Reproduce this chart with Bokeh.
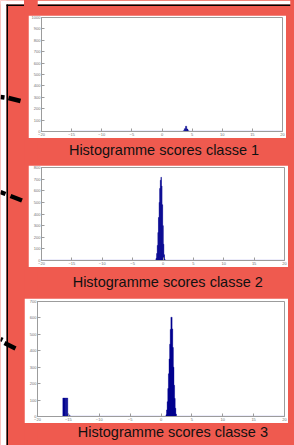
from bokeh.plotting import figure
from bokeh.layouts import row, column
from bokeh.models import Range1d, FixedTicker
from bokeh.core.properties import value
from bokeh.embed import file_html
from bokeh.resources import INLINE

# ---------------- data ----------------
x_ticks = [-20, -15, -10, -5, 0, 5, 10, 15, 20]

# classe 1
c1_centers = [3.6, 3.8, 4.0, 4.2, 4.4]
c1_counts = [6, 25, 46, 22, 6]
c1_span = [-15, 20]
c1_yticks = [0, 100, 200, 300, 400, 500, 600, 700, 800, 900, 1000]

# classe 2
c2_centers = [-1.2, -1.1, -1.0, -0.9, -0.8, -0.7, -0.6, -0.5, -0.4, -0.3,
              -0.2, -0.1, 0.0, 0.1, 0.2, 0.3]
c2_counts = [5, 20, 60, 130, 240, 370, 500, 620, 690, 716, 640, 480, 300, 140, 50, 10]
c2_span = [-20, 20]
c2_yticks = [0, 100, 200, 300, 400, 500, 600, 700, 800]

# classe 3
c3_centers = [-15.8, -15.6, -15.4, -15.2, -15.0, -14.8,
              0.9, 1.0, 1.1, 1.2, 1.3, 1.4, 1.5, 1.6, 1.7, 1.8, 1.9, 2.0,
              2.1, 2.2, 2.3, 2.4]
c3_counts = [112, 112, 112, 112, 15, 5,
             10, 40, 90, 170, 260, 350, 440, 530, 604, 533, 420, 300,
             190, 110, 50, 15]
c3_span = [-16, 20]
c3_yticks = [0, 100, 200, 300, 400, 500, 600, 700]

captions = ["Histogramme scores classe 1",
            "Histogramme scores classe 2",
            "Histogramme scores classe 3"]

# decorative connector dashes (pixel coords of the left strip)
dash_x0 = [0, 8, 0, 10, 0, 4]
dash_y0 = [96.5, 97.5, 191.5, 195.5, 338.5, 342.5]
dash_x1 = [4, 20, 5, 21.5, 2, 15]
dash_y1 = [97, 100.5, 193.5, 200, 339.5, 348]

# ---------------- style ----------------
RED = "#ef5a4f"
NAVY = "#00008f"
BASE = "#b8b8ee"
AXIS = "#9c9c9c"
LABEL = "#707070"
W, H = 294, 445
STRIP_W = 24
COL_W = W - STRIP_W


def style_axis(ax, ticks):
    ax.ticker = FixedTicker(ticks=ticks)
    ax.axis_line_color = AXIS
    ax.major_tick_line_color = AXIS
    ax.major_tick_in = 3
    ax.major_tick_out = 0
    ax.minor_tick_line_color = None
    ax.major_label_standoff = 1
    ax.major_label_text_color = LABEL
    ax.major_label_text_font = "Liberation Sans"
    ax.major_label_text_font_size = "4px"


def hist_fig(w, h, centers, counts, span, yticks, ymax, bw, mb):
    p = figure(width=w, height=h, x_range=Range1d(-20, 20), y_range=Range1d(0, ymax),
               toolbar_location=None, output_backend="svg",
               min_border_left=mb[0], min_border_right=mb[1],
               min_border_top=mb[2], min_border_bottom=mb[3],
               background_fill_color="white", border_fill_color="white",
               outline_line_color=AXIS)
    p.grid.visible = False
    style_axis(p.xaxis[0], x_ticks)
    style_axis(p.yaxis[0], yticks)
    p.segment(x0=[span[0]], y0=[0], x1=[span[1]], y1=[0], line_color=BASE, line_width=1.5)
    p.vbar(x=centers, top=counts, width=bw, fill_color=NAVY, line_color=NAVY, line_width=0.4)
    return p


def blank_fig(w, h, xr, yr):
    p = figure(width=w, height=h, x_range=xr, y_range=yr,
               toolbar_location=None, output_backend="svg", min_border=0,
               background_fill_color=RED, border_fill_color=RED, outline_line_color=None)
    p.axis.visible = False
    p.grid.visible = False
    return p


def caption_fig(h, text, cx, cy):
    p = blank_fig(COL_W, h, Range1d(0, COL_W), Range1d(0, h))
    p.text(x=[cx], y=[cy], text=[text], text_font=value("Liberation Sans"),
           text_font_size="14.5px", text_align="center", text_baseline="middle",
           text_color="#111111")
    return p


# top bar (white page edge + black border of the red panel)
top = blank_fig(COL_W, 15, Range1d(0, COL_W), Range1d(15, 0))
top.quad(left=[0], right=[COL_W], top=[0], bottom=[4], fill_color="white", line_color=None)
top.segment(x0=[0], y0=[4.75], x1=[COL_W], y1=[4.75], line_color="black", line_width=1.5)

f1 = hist_fig(258, 123, c1_centers, c1_counts, c1_span, c1_yticks, 1000, 0.2, (10, 3, 2, 5))
f1.margin = (0, 0, 0, 4)
cap1 = caption_fig(27, captions[0], 135, 16)

f2 = hist_fig(260, 102, c2_centers, c2_counts, c2_span, c2_yticks, 800, 0.1, (11, 1, 2, 5))
f2.margin = (0, 0, 0, 4)
cap2 = caption_fig(31, captions[1], 139, 17)

f3 = hist_fig(264, 125, c3_centers, c3_counts, c3_span, c3_yticks, 700, 0.2, (8, 4, 3, 6))
cap3 = caption_fig(22, captions[2], 144.5, 14)

# left strip: white page edge, black border, connector dashes
strip = blank_fig(STRIP_W, H, Range1d(0, STRIP_W), Range1d(H, 0))
strip.quad(left=[0], right=[6], top=[0], bottom=[H], fill_color="white", line_color=None)
strip.quad(left=[0], right=[STRIP_W], top=[0], bottom=[4], fill_color="white", line_color=None)
strip.segment(x0=[6.75], y0=[4], x1=[6.75], y1=[H], line_color="black", line_width=1.5)
strip.segment(x0=[6], y0=[4.75], x1=[STRIP_W], y1=[4.75], line_color="black", line_width=1.5)
strip.segment(x0=dash_x0, y0=dash_y0, x1=dash_x1, y1=dash_y1, line_color="black",
              line_width=4.5)

col = column(top, f1, cap1, f2, cap2, f3, cap3, spacing=0,
             styles={"background-color": RED})
layout = row(strip, col, spacing=0)

open("out.html", "w").write(file_html(layout, INLINE))
